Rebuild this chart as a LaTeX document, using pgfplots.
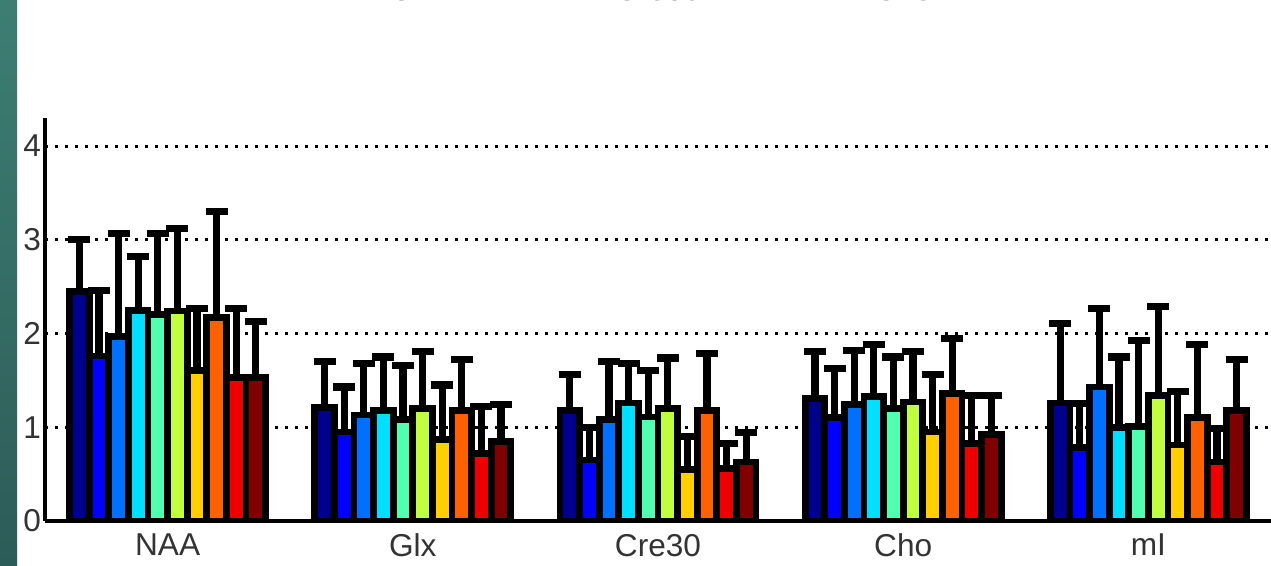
\documentclass[border=0pt]{standalone}
\usepackage{pgfplots}
\pgfplotsset{compat=1.18}
\usepackage{fontspec}
\setmainfont{Liberation Sans}
\definecolor{c1}{rgb}{0,0,0.5625}
\definecolor{c2}{rgb}{0,0,1}
\definecolor{c3}{rgb}{0,0.4375,1}
\definecolor{c4}{rgb}{0,0.875,1}
\definecolor{c5}{rgb}{0.3125,1,0.6875}
\definecolor{c6}{rgb}{0.75,1,0.25}
\definecolor{c7}{rgb}{1,0.8125,0}
\definecolor{c8}{rgb}{1,0.375,0}
\definecolor{c9}{rgb}{0.9375,0,0}
\definecolor{c10}{rgb}{0.5,0,0}
\definecolor{tealA}{HTML}{3D7E73}
\definecolor{tealB}{HTML}{2C5C57}
\definecolor{lab}{HTML}{333333}
\begin{document}
\begin{tikzpicture}
\useasboundingbox (0,0) rectangle (635.5pt,283pt);
\clip (0,0) rectangle (635.5pt,283pt);
\fill[white] (0,0) rectangle (635.5pt,283pt);
\shade[top color=tealA, bottom color=tealB] (0,0) rectangle (8.5pt,283pt);
\foreach \xx/\tt in {83.8/NAA,206.4/Glx,329/Cre30,451.6/Cho,574.2/mI}{
  \node[anchor=base, inner sep=0pt, text=lab, font=\fontsize{15.8}{18}\selectfont] at (\xx pt,282.8pt) {\tt};
}
\begin{axis}[
  at={(22.5pt,22.5pt)}, anchor=south west,
  scale only axis, width=613pt, height=201.5pt,
  xmin=0.5, xmax=5.5, ymin=0, ymax=4.3,
  axis x line*=bottom, axis y line*=left,
  axis line style={line width=2pt, black, -},
  xtick={1,2,3,4,5},
  xticklabels={NAA,Glx,Cre30,Cho,mI},
  ytick={0,1,2,3,4},
  major tick length=0pt,
  ymajorgrids,
  grid style={black, line width=1.4pt, dash pattern=on 1.4pt off 3.6pt},
  tick label style={text=lab, font=\fontsize{15.8}{18}\selectfont},
  /pgf/number format/assume math mode=true,
  xticklabel style={yshift=-3pt},
  yticklabel style={xshift=1.5pt},
  ybar, bar width=0.08, bar shift=0pt,
  error bars/y dir=plus,
  error bars/y explicit,
  error bars/error bar style={line width=3.6pt, black},
  error bars/error mark options={rotate=90, mark size=5.5pt, line width=3.6pt, black},
  every axis plot/.append style={draw=black, line width=3.4pt},
]
\addplot[fill=c1] coordinates {(0.64,2.45) +- (0,0.55) (1.64,1.21) +- (0,0.49) (2.64,1.18) +- (0,0.38) (3.64,1.31) +- (0,0.50) (4.64,1.26) +- (0,0.85)};
\addplot[fill=c2] coordinates {(0.72,1.76) +- (0,0.70) (1.72,0.95) +- (0,0.48) (2.72,0.65) +- (0,0.35) (3.72,1.10) +- (0,0.53) (4.72,0.78) +- (0,0.47)};
\addplot[fill=c3] coordinates {(0.80,1.97) +- (0,1.10) (1.80,1.13) +- (0,0.55) (2.80,1.08) +- (0,0.62) (3.80,1.24) +- (0,0.58) (4.80,1.43) +- (0,0.84)};
\addplot[fill=c4] coordinates {(0.88,2.25) +- (0,0.57) (1.88,1.18) +- (0,0.57) (2.88,1.26) +- (0,0.42) (3.88,1.33) +- (0,0.55) (4.88,1.00) +- (0,0.75)};
\addplot[fill=c5] coordinates {(0.96,2.20) +- (0,0.87) (1.96,1.08) +- (0,0.58) (2.96,1.11) +- (0,0.50) (3.96,1.20) +- (0,0.55) (4.96,1.01) +- (0,0.92)};
\addplot[fill=c6] coordinates {(1.04,2.24) +- (0,0.88) (2.04,1.20) +- (0,0.61) (3.04,1.20) +- (0,0.54) (4.04,1.27) +- (0,0.54) (5.04,1.34) +- (0,0.95)};
\addplot[fill=c7] coordinates {(1.12,1.61) +- (0,0.66) (2.12,0.87) +- (0,0.58) (3.12,0.55) +- (0,0.35) (4.12,0.95) +- (0,0.61) (5.12,0.81) +- (0,0.57)};
\addplot[fill=c8] coordinates {(1.20,2.17) +- (0,1.13) (2.20,1.18) +- (0,0.54) (3.20,1.18) +- (0,0.61) (4.20,1.36) +- (0,0.59) (5.20,1.10) +- (0,0.78)};
\addplot[fill=c9] coordinates {(1.28,1.53) +- (0,0.74) (2.28,0.72) +- (0,0.50) (3.28,0.56) +- (0,0.27) (4.28,0.83) +- (0,0.51) (5.28,0.63) +- (0,0.36)};
\addplot[fill=c10] coordinates {(1.36,1.53) +- (0,0.60) (2.36,0.85) +- (0,0.39) (3.36,0.63) +- (0,0.31) (4.36,0.92) +- (0,0.42) (5.36,1.18) +- (0,0.54)};
\end{axis}
\end{tikzpicture}
\end{document}
